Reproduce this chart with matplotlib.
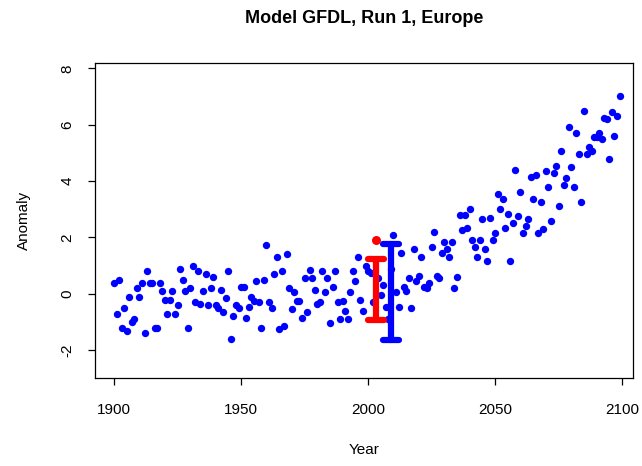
import numpy as np
import matplotlib
matplotlib.use('Agg')
import matplotlib.pyplot as plt

# --- Data ---
YEAR_START = 1900
anomaly = [
    0.4, -0.7, 0.5, -1.2, -0.5, -1.3, -0.1, -1.0, -0.9, 0.2,      # 1900s
    -0.1, 0.4, -1.4, 0.8, 0.4, 0.4, -1.2, -1.2, 0.4, 0.1,         # 1910s
    -0.2, -0.7, -0.2, 0.1, -0.7, -0.4, 0.9, 0.5, 0.1, -1.2,       # 1920s
    0.2, 1.0, -0.3, 0.8, -0.35, 0.1, 0.7, -0.4, 0.2, 0.6,         # 1930s
    -0.4, -0.5, 0.15, -0.65, -0.15, 0.8, -1.6, -0.8, -0.4, -0.5,  # 1940s
    0.25, 0.25, -0.85, -0.45, -0.1, -0.25, 0.45, -0.3, -1.2, 0.5,  # 1950s
    1.75, -0.3, -0.5, 0.7, 1.3, -1.25, 0.8, -1.15, 1.4, 0.2,      # 1960s
    -0.55, 0.05, -0.25, -0.25, -0.85, 0.55, -0.65, 0.85, 0.55, 0.15,  # 1970s
    -0.35, -0.3, 0.8, 0.05, 0.55, -1.05, 0.25, 0.8, -0.3, -0.9,   # 1980s
    -0.25, -0.6, -0.9, 0.05, 0.8, 0.45, 1.3, -0.2, -0.6, 1.0,     # 1990s
    0.8, 0.75, -0.3, 1.9, 0.55, -0.05, 0.3, -0.45, -0.9, 0.9,     # 2000s
    2.1, 0.05, -0.45, 1.45, 0.25, 0.1, 0.55, -0.5, 1.6, 0.45,     # 2010s
    0.65, 1.3, 0.25, 0.2, 0.4, 1.65, 2.2, 0.65, 0.55, 1.45,       # 2020s
    1.85, 1.6, 1.3, 1.85, 0.2, 0.6, 2.8, 2.25, 2.8, 2.35,         # 2030s
    3.0, 1.9, 1.65, 1.3, 1.9, 2.65, 1.6, 1.15, 2.7, 1.9,          # 2040s
    2.15, 3.55, 3.0, 3.35, 2.35, 2.85, 1.15, 2.5, 4.4, 2.75,      # 2050s
    3.6, 2.15, 2.4, 2.65, 4.15, 3.35, 4.2, 2.15, 3.25, 2.3,       # 2060s
    4.35, 3.8, 2.6, 4.3, 4.55, 3.1, 5.05, 3.85, 4.1, 5.9,         # 2070s
    4.5, 3.8, 5.7, 4.95, 3.25, 6.5, 4.95, 5.2, 5.05, 5.55,        # 2080s
    5.55, 5.7, 5.5, 6.25, 6.2, 4.8, 6.45, 5.6, 6.3, 7.0,          # 2090s
]
years = np.arange(YEAR_START, YEAR_START + len(anomaly))

# highlighted observation and the two ranges
obs_year = 2003
obs_value = 1.9
red_range_year = 2003
red_range = [-0.92, 1.22]
blue_range_year = 2009
blue_range = [-1.63, 1.78]

x_ticks = [1900, 1950, 2000, 2050, 2100]
y_ticks = [-2, 0, 2, 4, 6, 8]


def draw_range(ax, x, lo, hi, color, cap=3.2):
    """Vertical bar with flat caps, like R's arrows(angle=90, code=3)."""
    kw = dict(color=color, lw=4.5, solid_capstyle='round', zorder=4)
    ax.plot([x, x], [lo, hi], **kw)
    ax.plot([x - cap, x + cap], [lo, lo], **kw)
    ax.plot([x - cap, x + cap], [hi, hi], **kw)


def main():
    plt.rcParams['font.family'] = ['Liberation Sans', 'DejaVu Sans']

    fig = plt.figure(figsize=(6.42, 4.66), dpi=100)
    ax = fig.add_axes([0.148, 0.189, 0.838, 0.676])

    ax.scatter(years, anomaly, s=28, color='#0000ff', linewidths=0, zorder=3)

    draw_range(ax, red_range_year, red_range[0], red_range[1], '#ff0000')
    draw_range(ax, blue_range_year, blue_range[0], blue_range[1], '#0000ff')
    ax.scatter([obs_year], [obs_value], s=42, color='#ff0000', linewidths=0, zorder=5)

    ax.set_xlim(1892.5, 2104.3)
    ax.set_ylim(-2.98, 8.19)
    ax.set_xticks(x_ticks)
    ax.set_yticks(y_ticks)
    ax.set_yticklabels([str(v) for v in y_ticks], rotation=90, va='center')

    ax.tick_params(direction='out', length=5, width=0.9, labelsize=11, colors='black')
    ax.tick_params(axis='x', pad=13)
    ax.tick_params(axis='y', pad=10)
    for sp in ax.spines.values():
        sp.set_linewidth(0.9)

    ax.set_title('Model GFDL, Run 1, Europe', fontsize=13, fontweight='bold', pad=29)
    ax.set_xlabel('Year', fontsize=11, labelpad=19)
    ax.set_ylabel('Anomaly', fontsize=11, labelpad=21)

    fig.savefig('out.png', dpi=100)


if __name__ == "__main__":
    main()
